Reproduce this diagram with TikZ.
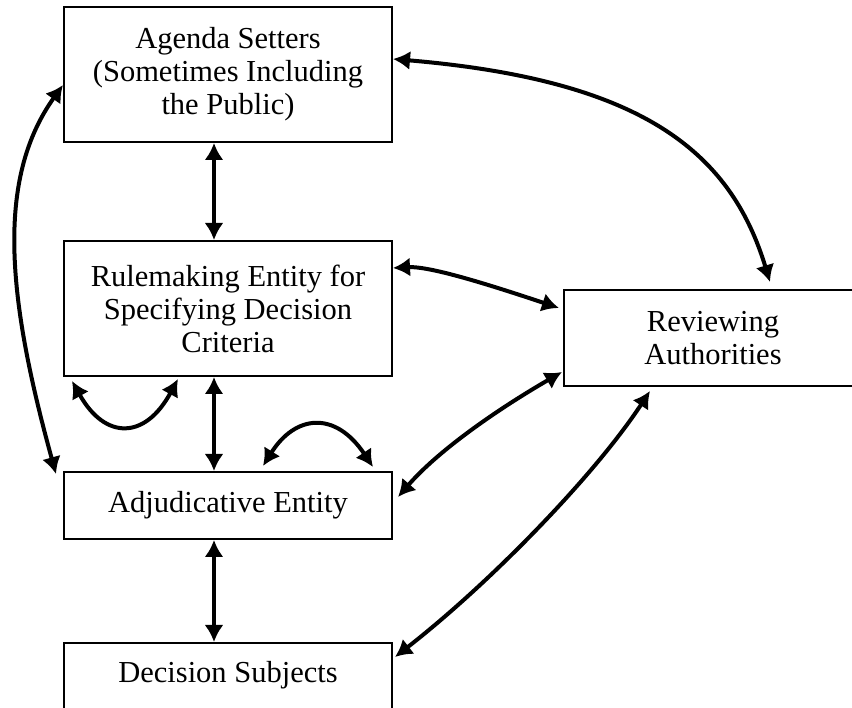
\documentclass[tikz,border=0pt]{standalone}
\usepackage{fontspec}
\setmainfont{Liberation Serif}
\usetikzlibrary{arrows.meta}

\begin{document}
\begin{tikzpicture}[
    x=1pt, y=1pt,
    box/.style={draw, line width=2pt, align=center, minimum width=328pt,
        font=\fontsize{30.5}{33}\selectfont, inner sep=0pt},
    link/.style={line width=4pt, {Latex[length=17pt,width=19pt]}-{Latex[length=17pt,width=19pt]}}
    ]
    \useasboundingbox (0,0) rectangle (852,708);
    \clip (0,0) rectangle (852,708);
    % boxes
    \node[box, minimum height=135pt] (agenda) at (228,633.5)
        {Agenda Setters\\(Sometimes Including\\the Public)};
    \node[box, minimum height=135pt] (rule) at (228,399.5)
        {Rulemaking Entity for\\Specifying Decision\\Criteria};
    \node[box, minimum height=67pt] (adj) at (228,202.5)
        {Adjudicative Entity};
    \node[box, minimum height=100pt] (subj) at (228,15)
        {Decision Subjects\\\strut};
    \node[box, minimum width=298pt, minimum height=96pt] (review) at (713,370)
        {Reviewing\\Authorities};
    % straight links down the left column
    \draw[link] ([xshift=-14pt]agenda.south) -- ([xshift=-14pt]rule.north);
    \draw[link] ([xshift=-14pt]rule.south) -- ([xshift=-14pt]adj.north);
    \draw[link] ([xshift=-14pt]adj.south) -- ([xshift=-14pt]subj.north);
    % long loop on the left
    \draw[link] ([yshift=-10.5pt]agenda.west) .. controls (-5,528) and (8,408)
        .. ([xshift=-7pt,yshift=-3pt]adj.north west);
    % links to the reviewing authorities
    \draw[link] ([yshift=15.5pt]agenda.east) .. controls (640,628) and (730,558)
        .. ([xshift=57pt,yshift=7pt]review.north);
    \draw[link] ([yshift=40.5pt]rule.east) .. controls (430,442) and (490,423)
        .. ([xshift=-4pt,yshift=30pt]review.west);
    \draw[link] ([xshift=5pt,yshift=8.5pt]adj.east) .. controls (437,256) and (493,296)
        .. ([xshift=-1pt,yshift=-34pt]review.west);
    \draw[link] ([xshift=2pt,yshift=36pt]subj.east) .. controls (490,125) and (595,233)
        .. ([xshift=-63pt,yshift=-4pt]review.south);
    % self loops
    \draw[link] ([xshift=9pt,yshift=-4pt]rule.south west) .. controls (105,268) and (145,268)
        .. ([xshift=-50pt,yshift=-2pt]rule.south);
    \draw[link] ([xshift=35pt,yshift=5pt]adj.north) .. controls (295,293) and (335,298)
        .. ([xshift=145pt,yshift=4pt]adj.north);
\end{tikzpicture}
\end{document}
